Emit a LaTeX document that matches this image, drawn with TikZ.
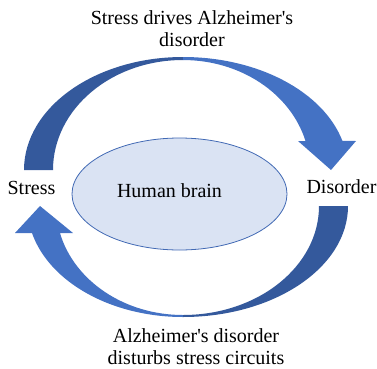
\documentclass[tikz,border=0pt]{standalone}
\usepackage{fontspec}
\setmainfont{Liberation Serif}[Ligatures=TeXOff]
\usepackage{tikz}
\usetikzlibrary{positioning, calc, shapes.geometric}

\begin{document}
\begin{tikzpicture}[x=1pt, y=1pt,
        lbl/.style={inner sep=0pt, text=black, font=\fontsize{20}{22}\selectfont},
        arrowfront/.style={fill=arrowlight, draw=none},
        arrowback/.style={fill=arrowdark, draw=none}]
        % Màu sắc
        \definecolor{arrowlight}{RGB}{68, 114, 196}
        \definecolor{arrowdark}{RGB}{52, 89, 156}
        \definecolor{brainfill}{RGB}{218, 227, 243}
        \definecolor{brainline}{RGB}{65, 105, 180}

        \useasboundingbox (0, 0) rectangle (377, 368);

        % 1. Hình elip ở giữa
        \node[ellipse, draw=brainline, line width=0.8pt, fill=brainfill,
              minimum width=215pt, minimum height=112pt, inner sep=0pt] (brain) at (179.5, 174) {};
        \node[lbl, anchor=base] (lbl_brain) at (169.5, 171) {Human brain};

        % 2. Nhãn hai bên
        \node[lbl, anchor=base] (lbl_stress) at (31.5, 174) {Stress};
        \node[lbl, anchor=base] (lbl_disorder) at (341.5, 175) {Disorder};

        % 3. Mũi tên cong phía trên (tâm tại (183, 198))
        % Phần sau (màu đậm), bên trái
        \fill[arrowback] (24, 198)
            arc[start angle=180, end angle=90, x radius=159pt, y radius=113pt]
            -- (183, 308)
            arc[start angle=90, end angle=180, x radius=130pt, y radius=110pt]
            -- cycle;
        % Phần trước có đầu mũi tên, bên phải
        \fill[arrowfront] (183, 311)
            arc[start angle=90, end angle=14.9, x radius=165pt, y radius=113pt]
            -- (356, 227) -- (331, 198) -- (298, 227) -- (305.5, 227)
            arc[start angle=15.3, end angle=90, x radius=127pt, y radius=110pt]
            -- cycle;

        % 4. Mũi tên cong phía dưới (tâm tại (183, 162))
        % Phần sau (màu đậm), bên phải
        \fill[arrowback] (348, 162)
            arc[start angle=0, end angle=-90, x radius=165pt, y radius=111pt]
            -- (183, 53)
            arc[start angle=-90, end angle=0, x radius=136pt, y radius=109pt]
            -- cycle;
        % Phần trước có đầu mũi tên, bên trái
        \fill[arrowfront] (183, 51)
            arc[start angle=270, end angle=194.08, x radius=155.7pt, y radius=111pt]
            -- (15, 135) -- (40, 162) -- (73, 135) -- (59.95, 135)
            arc[start angle=194.34, end angle=270, x radius=127pt, y radius=109pt]
            -- cycle;

        % 5. Chú thích trên và dưới
        \node[lbl, align=center] (lbl_top) at (192, 338.9) {Stress drives Alzheimer's\\disorder};
        \node[lbl, align=center] (lbl_bottom) at (196, 21.4) {Alzheimer's disorder\\disturbs stress circuits};

    \end{tikzpicture}
\end{document}
